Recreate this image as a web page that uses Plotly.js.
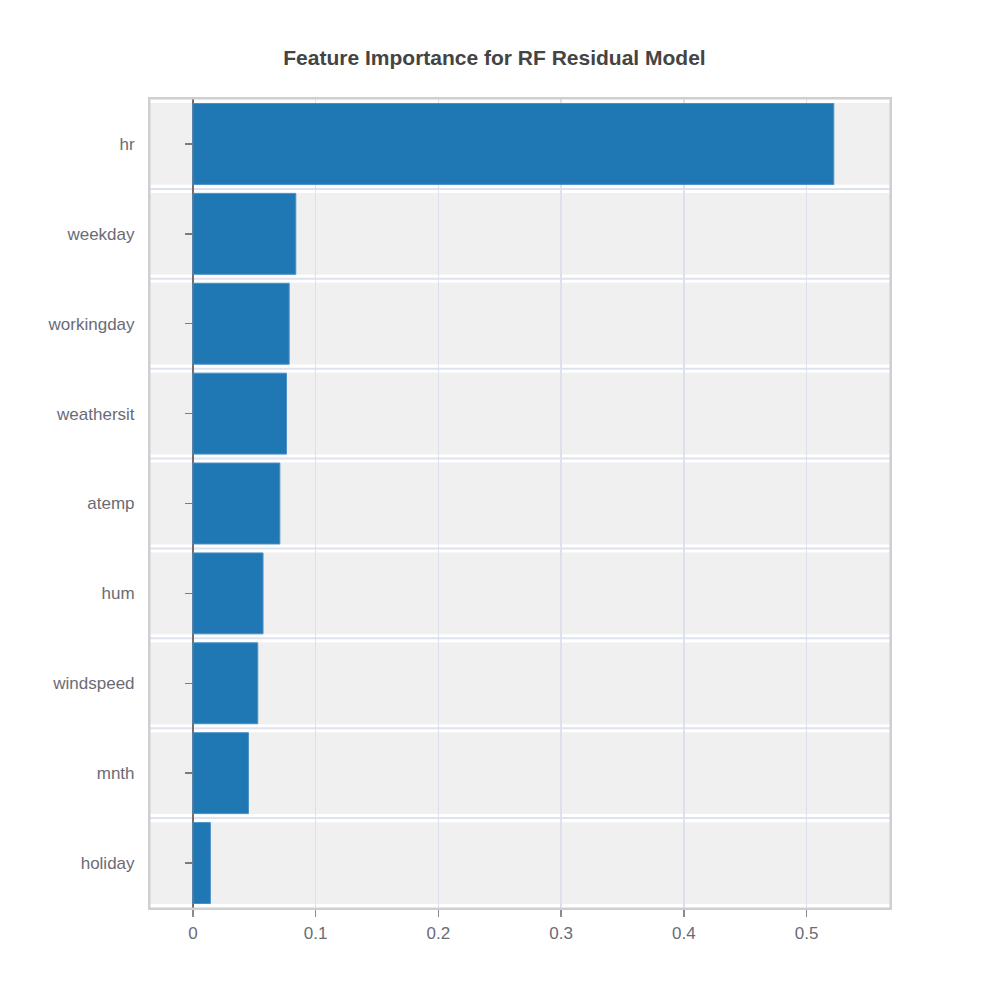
<!DOCTYPE html>
<html>
<head>
<meta charset="utf-8">
<script src="https://cdn.plot.ly/plotly-3.0.1.min.js"></script>
<style>
  html, body { margin: 0; padding: 0; background: #fff; }
  #chart { width: 989px; height: 989px; }
</style>
</head>
<body>
<div id="chart"></div>
<script>
// feature importances, top to bottom as shown
var features = ["hr", "weekday", "workingday", "weathersit", "atemp", "hum", "windspeed", "mnth", "holiday"];
var importance = [0.5222, 0.0838, 0.0784, 0.0762, 0.0708, 0.0571, 0.0528, 0.0452, 0.0142];
var xTicks = [0, 0.1, 0.2, 0.3, 0.4, 0.5];

var xMin = -0.035, xMax = 0.568;

// grey band per category plus a thin line at each boundary
var shapes = [];
for (var i = 0; i < features.length; i++) {
    shapes.push({
        type: "rect", layer: "below", xref: "paper", yref: "y",
        x0: 0, x1: 1, y0: i - 0.455, y1: i + 0.455,
        fillcolor: "#f0f0f0", line: {width: 0}
    });
}
for (var i = 0; i < features.length - 1; i++) {
    shapes.push({
        type: "line", layer: "below", xref: "paper", yref: "y",
        x0: 0, x1: 1, y0: i + 0.5, y1: i + 0.5,
        line: {color: "#dde2ef", width: 2}
    });
}
// frame
shapes.push({
    type: "rect", xref: "paper", yref: "paper",
    x0: -0.001, x1: 1.001, y0: -0.001, y1: 1.001,
    line: {color: "#cfcfd2", width: 2.5}
});

var trace = {
    type: "bar",
    orientation: "h",
    x: importance,
    y: features,
    marker: {color: "#1f77b4", line: {color: "#4a8fc7", width: 1}},
    hoverinfo: "x+y"
};

var layout = {
    width: 989,
    height: 989,
    paper_bgcolor: "#ffffff",
    plot_bgcolor: "#ffffff",
    margin: {l: 150, r: 99, t: 99, b: 81},
    showlegend: false,
    bargap: 0.1,
    font: {family: "Liberation Sans, Arial, sans-serif", color: "#6b6b76", size: 17},
    title: {
        text: "<b>Feature Importance for RF Residual Model</b>",
        font: {size: 21, color: "#444444", family: "Liberation Sans, Arial, sans-serif"},
        x: 0.5, xanchor: "center",
        y: 1 - 58 / 989, yanchor: "middle"
    },
    xaxis: {
        range: [xMin, xMax],
        tickvals: xTicks,
        ticktext: xTicks.map(String),
        showgrid: true,
        gridcolor: "#dde1ec",
        gridwidth: 1.5,
        zeroline: true,
        zerolinecolor: "#6f6f74",
        zerolinewidth: 2,
        showline: false,
        ticks: "outside",
        ticklen: 8,
        tickwidth: 1.5,
        tickcolor: "#8a8a8f",
        ticklabelstandoff: 2,
        tickfont: {size: 17, color: "#6b6b76"}
    },
    yaxis: {
        type: "category",
        range: [features.length - 0.5, -0.5],
        anchor: "free",
        position: (0 - xMin) / (xMax - xMin),
        showgrid: false,
        zeroline: false,
        showline: false,
        ticks: "outside",
        ticklen: 8,
        tickwidth: 1.5,
        tickcolor: "#7a7a80",
        ticklabelstandoff: 47,
        tickfont: {size: 17, color: "#6b6b76"}
    },
    shapes: shapes
};

Plotly.newPlot("chart", [trace], layout, {displayModeBar: false, staticPlot: true});
</script>
</body>
</html>
